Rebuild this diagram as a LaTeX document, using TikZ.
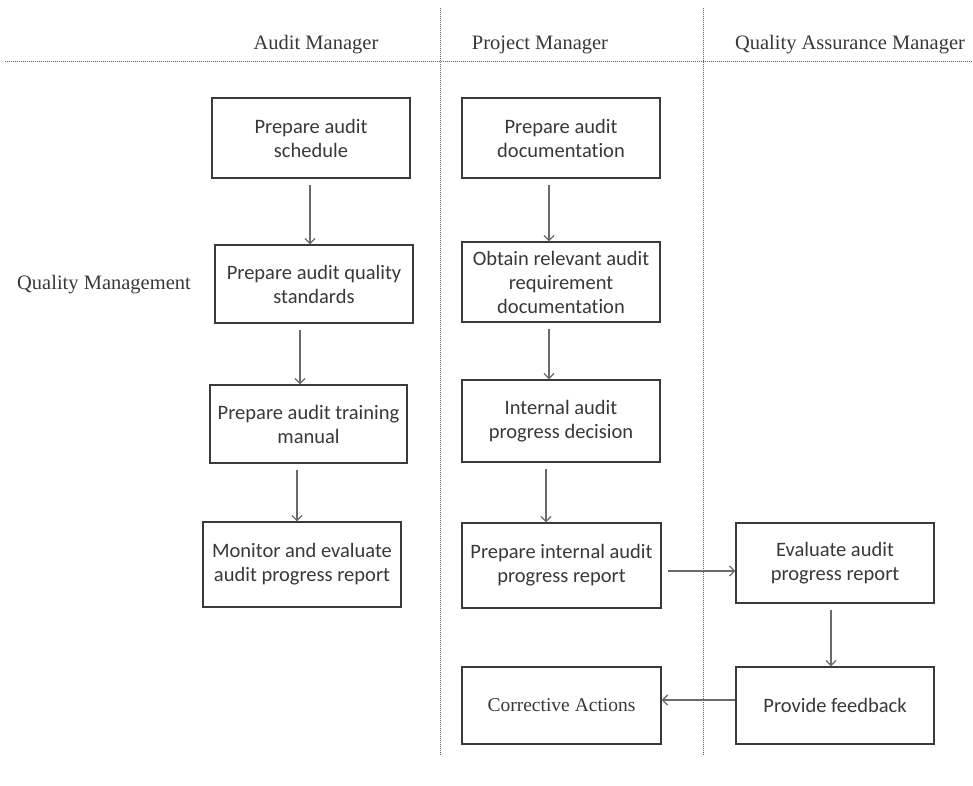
\documentclass[tikz,border=0pt]{standalone}
\usepackage{fontspec}
\setmainfont{Liberation Serif}
\newfontfamily\boxfont[Ligatures=NoCommon]{Carlito}
\usetikzlibrary{arrows.meta}

\definecolor{ink}{HTML}{383838}
\definecolor{edgegray}{HTML}{3A3A3A}
\definecolor{flowgray}{HTML}{6A6A6A}
\definecolor{lanegray}{HTML}{5E5E5E}

\tikzset{
  task/.style={draw=edgegray, line width=1.3pt, minimum width=198pt,
    minimum height=80pt, inner sep=0pt, align=center, text=ink,
    font=\boxfont\fontsize{20.5}{24}\selectfont},
  role/.style={anchor=base, inner sep=0pt, text=ink,
    font=\fontsize{20.5}{24}\selectfont},
  flow/.style={draw=flowgray, line width=1.3pt, ->, shorten <=6pt},
  lane/.style={draw=lanegray, line width=1pt, dash pattern=on 1.2pt off 0.8pt},
}

\begin{document}
\begin{tikzpicture}[x=1pt, y=-1pt, >={Straight Barb[length=5pt,width=10pt]}]
\useasboundingbox (0,0) rectangle (973,785);

% swimlane rules
\draw[lane] (5,61) -- (973,61);
\draw[lane] (440,8) -- (440,755);
\draw[lane] (703,8) -- (703,755);

% lane titles
\node[role] (am) at (316,49) {Audit Manager};
\node[role] (pm) at (540,49) {Project Manager};
\node[role] (qam) at (850,49) {Quality Assurance Manager};
\node[role] (qm) at (104,289) {Quality Management};

% audit manager
\node[task] (sched) at (311,138) {Prepare audit\\schedule};
\node[task, minimum height=78pt] (stds) at (314,284) {Prepare audit quality\\standards};
\node[task, minimum width=197pt, minimum height=78pt] (train) at (308.5,424)
  {Prepare audit training\\manual};
\node[task, minimum height=85pt] (monitor) at (302,564.5)
  {Monitor and evaluate\\audit progress report};

% project manager
\node[task] (pmdocs) at (561,138) {Prepare audit\\documentation};
\node[task] (obtain) at (561,282) {Obtain relevant audit\\requirement\\documentation};
\node[task, minimum height=82pt] (decide) at (561,421) {Internal audit\\progress decision};
\node[task, minimum width=199pt, minimum height=85pt] (pmreport) at (561.5,565.5)
  {Prepare internal audit\\progress report};
\node[task, minimum width=199pt, minimum height=77pt,
  font=\rmfamily\fontsize{19.5}{23}\selectfont] (correct) at (561.5,705.5)
  {Corrective Actions};

% quality assurance manager
\node[task] (evaluate) at (835,563) {Evaluate audit\\progress report};
\node[task, minimum height=77pt] (feedback) at (835,705.5) {Provide feedback};

% flow
\draw[flow] ([xshift=-1pt]sched.south) -- ([xshift=-1pt]sched.south |- stds.north);
\draw[flow] ([xshift=-14pt]stds.south) -- ([xshift=-14pt]stds.south |- train.north);
\draw[flow] ([xshift=-11.5pt]train.south) -- ([xshift=-11.5pt]train.south |- monitor.north);
\draw[flow] ([xshift=-12pt]pmdocs.south) -- ([xshift=-12pt]pmdocs.south |- obtain.north);
\draw[flow] ([xshift=-12pt]obtain.south) -- ([xshift=-12pt]obtain.south |- decide.north);
\draw[flow] ([xshift=-15pt]decide.south) -- ([xshift=-15pt]decide.south |- pmreport.north);
\draw[flow] ([yshift=-5.5pt]pmreport.east) -- ([yshift=-5.5pt]pmreport.east -| evaluate.west);
\draw[flow] ([xshift=-4pt]evaluate.south) -- ([xshift=-4pt]evaluate.south |- feedback.north);
\draw[flow, shorten <=0pt] ([yshift=5.5pt]feedback.west) -- ([yshift=5.5pt]feedback.west -| correct.east);
\end{tikzpicture}
\end{document}
